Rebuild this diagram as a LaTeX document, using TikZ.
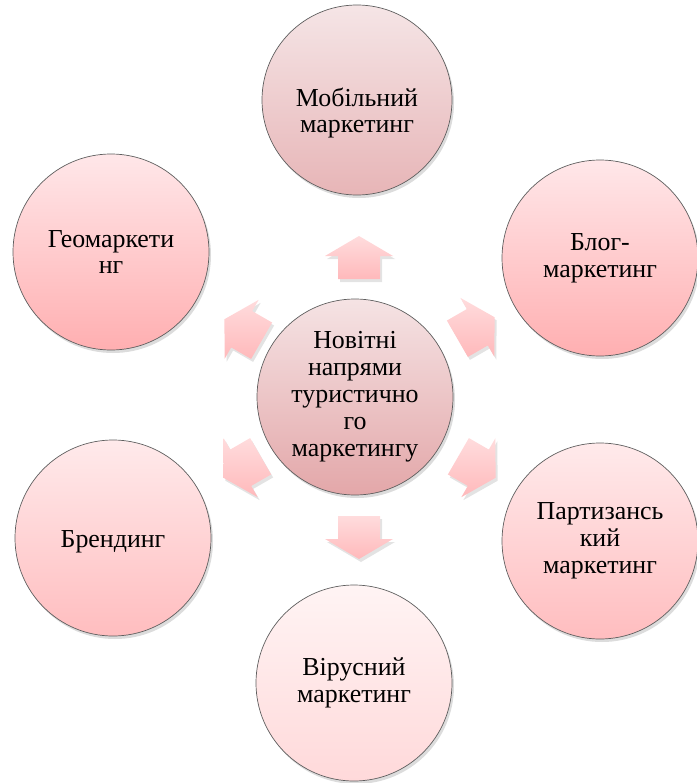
\documentclass[tikz,border=0pt]{standalone}
\usepackage{fontspec}
\setmainfont{Liberation Serif}
\usetikzlibrary{shadows}
\definecolor{circedge}{HTML}{5E5E5E}
\definecolor{cenTop}{HTML}{F5E3E4}
\definecolor{cenBot}{HTML}{E3A7A9}
\definecolor{mobTop}{HTML}{F5E5E6}
\definecolor{mobBot}{HTML}{E7B5B7}
\definecolor{geoTop}{HTML}{FFE7E9}
\definecolor{geoBot}{HTML}{FFAFB1}
\definecolor{parTop}{HTML}{FFEAEB}
\definecolor{parBot}{HTML}{FFBDBF}
\definecolor{virTop}{HTML}{FFF4F4}
\definecolor{virBot}{HTML}{FFD9DA}
\definecolor{arrTop}{HTML}{FFDCDD}
\definecolor{arrBot}{HTML}{FFB9BB}
\begin{document}
\begin{tikzpicture}[x=1bp,y=-1bp,
  bubble/.style={circle, minimum size=196bp, inner sep=0pt, draw=circedge,
    line width=0.7bp, align=center, text=black,
    font=\fontsize{26}{27}\selectfont,
    drop shadow={opacity=0.28, shadow xshift=2bp, shadow yshift=-3bp}},
  bubtext/.style={align=center, text=black, inner sep=0pt,
    font=\fontsize{26}{27}\selectfont},
  blockarrow/.pic={
    \path[top color=arrTop, bottom color=arrBot,
      drop shadow={opacity=0.22, shadow xshift=2bp, shadow yshift=-3bp}]
      (0,-21.5) -- (34,-1.5) -- (21,-1.5) -- (21,21.5) -- (-21,21.5)
      -- (-21,-1.5) -- (-34,-1.5) -- cycle;
  }]
\useasboundingbox (0,0) rectangle (697,783);

% arrows
\pic at (359,257.5) {blockarrow};
\pic[rotate=-60] at (476,328) {blockarrow};
\pic[rotate=-120] at (477,467) {blockarrow};
\pic[rotate=180] at (359,537.5) {blockarrow};
\pic[rotate=120] at (242,467) {blockarrow};
\pic[rotate=60] at (243,330) {blockarrow};

% circles
\node[bubble, minimum size=190bp, top color=mobTop, bottom color=mobBot] (mob) at (357,100) {};
\node[bubtext] (mobtext) at ([yshift=-13bp]mob.center) {Мобільний\\маркетинг};
\node[bubble, top color=geoTop, bottom color=geoBot] (blog) at (600,258) {Блог-\\маркетинг};
\node[bubble, top color=parTop, bottom color=parBot] (part) at (600,541) {Партизансь\\кий\\маркетинг};
\node[bubble, top color=virTop, bottom color=virBot] (vir) at (354,683) {Вірусний\\маркетинг};
\node[bubble, top color=parTop, bottom color=parBot] (brand) at (113,538) {};
\node[bubtext] (brandtext) at ([yshift=-4bp]brand.center) {Брендинг};
\node[bubble, top color=geoTop, bottom color=geoBot] (geo) at (111,252) {Геомаркети\\нг};
\node[bubble, top color=cenTop, bottom color=cenBot] (center) at (355,397) {Новітні\\напрями\\туристично\\го\\маркетингу};
\end{tikzpicture}
\end{document}
